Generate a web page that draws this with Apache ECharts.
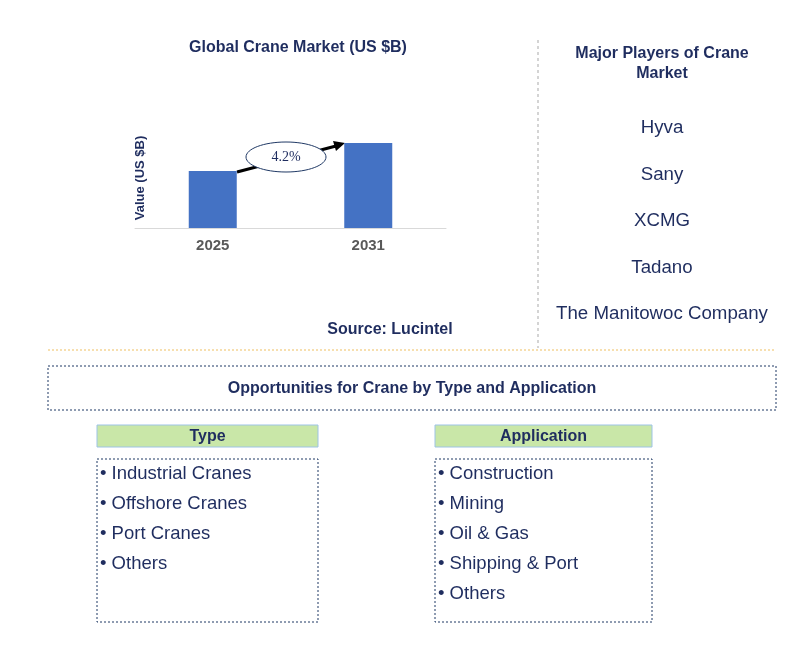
<!DOCTYPE html>
<html><head><meta charset="utf-8">
<script src="https://cdn.jsdelivr.net/npm/echarts@6/dist/echarts.min.js"></script>
<style>html,body{margin:0;padding:0;background:#fff}#c{width:791px;height:659px}</style>
</head><body><div id="c"></div>
<script>
// chart data
const years = ['2025', '2031']
const values = [57, 85]
const cagr = '4.2%'
const players = ['Hyva', 'Sany', 'XCMG', 'Tadano', 'The Manitowoc Company']
const types = ['Industrial Cranes', 'Offshore Cranes', 'Port Cranes', 'Others']
const applications = ['Construction', 'Mining', 'Oil & Gas', 'Shipping & Port', 'Others']

const navy = '#1f2d5f'
const font = 'Arial, "Liberation Sans", sans-serif'
const chart = echarts.init(document.getElementById('c'))

const txt = (x, y, text, size, opts = {}) => ({
  type: 'text', x, y,
  style: Object.assign({ text, fontSize: size, fontFamily: font, fill: navy, textAlign: 'center', textVerticalAlign: 'middle' }, opts)
})

const g = []
g.push(txt(298, 48, 'Global Crane Market (US $B)', 16, { fontWeight: 'bold' }))
g.push(txt(390, 330, 'Source: Lucintel', 16, { fontWeight: 'bold' }))
g.push(txt(662, 64, 'Major Players of Crane\nMarket', 16, { fontWeight: 'bold', lineHeight: 20 }))
players.forEach((p, i) => g.push(txt(662, 128 + i * 46.5, p, 18.7)))
// dividers
g.push({ type: 'line', shape: { x1: 538, y1: 40, x2: 538, y2: 348 }, style: { stroke: '#aaa', lineDash: [3, 3], lineWidth: 1 } })
g.push({ type: 'line', shape: { x1: 48, y1: 350, x2: 775, y2: 350 }, style: { stroke: '#f0c060', lineDash: [2, 2], lineWidth: 1 } })
g.push({ type: 'rect', shape: { x: 48, y: 366, width: 728, height: 44 }, style: { fill: 'none', stroke: '#1f3864', lineDash: [2, 2], lineWidth: 1 } })
g.push(txt(412, 389, 'Opportunities for Crane by Type and Application', 16, { fontWeight: 'bold' }))
// segment boxes
function seg(x, w, title, items) {
  g.push({ type: 'rect', shape: { x, y: 425, width: w, height: 22 }, style: { fill: '#c9e7a8', stroke: '#9dc3e6', lineWidth: 1 } })
  g.push(txt(x + w / 2, 437, title, 16, { fontWeight: 'bold' }))
  g.push({ type: 'rect', shape: { x, y: 459, width: w, height: 163 }, style: { fill: 'none', stroke: '#1f3864', lineDash: [2, 2], lineWidth: 1 } })
  items.forEach((it, i) => g.push(txt(x + 3, 474 + i * 30, '• ' + it, 18.5, { textAlign: 'left' })))
}
seg(97, 221, 'Type', types)
seg(435, 217, 'Application', applications)
// growth arrow and ellipse
g.push({ type: 'line', shape: { x1: 237, y1: 172, x2: 336, y2: 146 }, style: { stroke: '#000', lineWidth: 3 } })
g.push({ type: 'polygon', shape: { points: [[345, 143], [333, 141], [336, 151]] }, style: { fill: '#000' } })
g.push({ type: 'ellipse', shape: { cx: 286, cy: 157, rx: 40, ry: 15 }, style: { fill: '#fff', stroke: '#1f3864', lineWidth: 1 } })
g.push(txt(286, 157, cagr, 14, { fill: navy, fontFamily: 'Times New Roman, "Liberation Serif", serif' }))

chart.setOption({
  animation: false,
  grid: { left: 135, right: 345, top: 128, bottom: 431 },
  xAxis: {
    type: 'category', data: years,
    axisLine: { lineStyle: { color: '#d9d9d9' } }, axisTick: { show: false },
    axisLabel: { color: '#595959', fontSize: 15, fontWeight: 'bold', fontFamily: font, margin: 10 }
  },
  yAxis: {
    type: 'value', min: 0, max: 100, name: 'Value (US $B)', nameLocation: 'middle', nameGap: -12,
    nameTextStyle: { color: navy, fontSize: 13, fontWeight: 'bold', fontFamily: font },
    axisLabel: { show: false }, splitLine: { show: false }, axisLine: { show: false }, axisTick: { show: false }
  },
  series: [{ type: 'bar', data: values, barWidth: 48, itemStyle: { color: '#4472c4' } }],
  graphic: g
})
</script></body></html>
